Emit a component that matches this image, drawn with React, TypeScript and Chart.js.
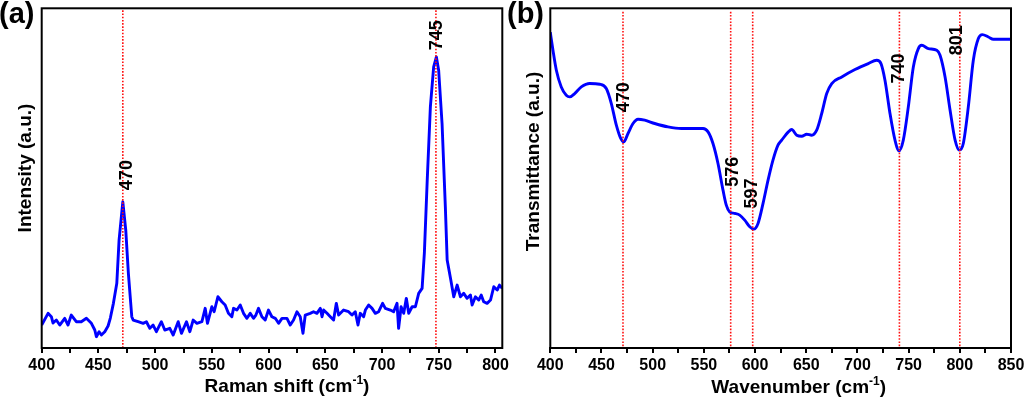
import React, { useEffect, useRef } from 'react';
import { Chart, registerables } from 'chart.js';

Chart.register(...registerables);

// ---------- Panel (a): Raman spectrum ----------
const ramanShift = [
  400, 405.6, 408.5, 410.0, 412.9, 415.9, 420.3, 423.2, 426.1, 430.5, 434.9, 439.4, 443.8, 446.8, 448.2,
  450.6, 452.6, 455.6, 458.5, 460.5, 463.2, 466.2, 468.2, 471.5, 474.1, 476.4, 479.4, 480.6, 485.0, 489.4,
  492.3, 495.3, 498.2, 501.1, 505.5, 508.5, 512.9, 515.9, 520.3, 523.2, 527.6, 530.6, 533.5, 536.8, 541.2,
  544.1, 546.1, 550.0, 552.0, 555.3, 558.8, 561.7, 564.6, 567.6, 569.1, 572.1, 575.0, 577.9, 580.9, 583.8,
  586.7, 588.8, 591.1, 594.1, 597.0, 599.9, 602.9, 605.9, 608.8, 611.8, 616.2, 619.1, 622.0, 625.0, 627.9,
  630.3, 632.3, 636.7, 639.6, 642.6, 645.6, 647.1, 648.5, 651.5, 654.4, 657.3, 659.7, 661.7, 666.1, 670.5,
  673.5, 676.4, 678.8, 680.8, 683.8, 685.3, 688.2, 691.2, 694.1, 697.0, 700.5, 702.9, 707.3, 710.2, 713.2,
  714.6, 716.8, 719.1, 721.4, 723.5, 726.5, 729.4, 732.3, 735.3, 737.3, 739.9, 742.6, 745.5, 747.9, 749.9,
  752.9, 755.8, 757.4, 760.3, 763.2, 766.2, 769.1, 772.0, 775.0, 777.9, 779.4, 782.3, 785.2, 787.4, 789.6,
  792.6, 795.6, 798.5, 801.5, 803.5, 805.9,
];
const ramanIntensity = [
  23, 34.7, 31.3, 25, 28, 23, 29.7, 23, 33, 26.3, 26.3, 29.7, 24.7, 18, 11.3,
  16.3, 13, 16.3, 22, 30, 44.7, 64.7, 108, 146.3, 118, 74.7, 31.3, 28, 26.3, 24.7,
  26.3, 19.7, 23, 16.3, 26.3, 18, 19.7, 13, 26.3, 14.7, 26.3, 16.3, 28, 24.7, 26.3,
  39.7, 24.7, 41.3, 36.3, 51.3, 46.3, 43, 34.7, 31.3, 39.7, 38, 43, 34.7, 29.7, 34.7,
  29.7, 33, 39.7, 31.3, 28, 38, 31.3, 29.7, 24.7, 29.7, 29.7, 23, 28, 36.3, 31.3,
  14.7, 33, 34.7, 36.3, 34.7, 39.7, 31.3, 38, 34.7, 31.3, 28, 44.7, 33, 38, 36.3,
  33, 36.3, 23, 34.7, 31.3, 38, 43, 39.7, 34.7, 36.3, 44.7, 39.7, 38, 36.3, 44.7,
  19.7, 41.3, 34.7, 49.7, 34.7, 41.3, 41.3, 54.7, 59.7, 95, 170, 241.3, 281.3, 291.3, 278,
  224.7, 141.3, 88, 70, 51.3, 63, 51.3, 54.7, 49.7, 53, 43, 51.3, 48, 53, 46.3,
  44.7, 48, 61.3, 58, 63, 59.7,
];
const ramanPeakPositions = [471.5, 747.5];
const ramanPeakLabels = ['470', '745'];

// ---------- Panel (b): FTIR spectrum ----------
const ftirWavenumber = [
  400, 402.6, 405.9, 410.7, 415.6, 419.0, 423.8, 430.3, 438.5, 448.3, 454.7, 459.6, 464.5, 468.8, 471.7,
  475.9, 480.8, 485.7, 492.2, 502.0, 515.0, 528.0, 541.1, 549.2, 554.1, 558.9, 563.8, 568.7, 571.9, 575.2,
  580.1, 585.0, 589.9, 594.8, 598.7, 602.9, 607.8, 612.7, 617.5, 622.4, 626.0, 632.5, 635.8, 640.7, 645.6,
  650.5, 655.3, 660.2, 665.1, 670.0, 674.9, 684.7, 697.6, 710.6, 718.8, 723.0, 726.9, 731.8, 736.7, 740.6,
  744.8, 749.7, 754.6, 759.5, 762.8, 769.3, 777.5, 780.7, 785.6, 790.5, 795.4, 799.5, 803.4, 808.3, 813.2,
  818.1, 822.0, 827.9, 832.8, 847.4, 850,
];
const ftirTransmittance = [
  316, 298, 278, 261.3, 253, 251.3, 254.7, 261.3, 264.7, 264, 259.7, 244.7, 223, 209.7, 206.3,
  214.7, 224.7, 229, 228, 224.7, 221.3, 219.7, 219.7, 219.7, 216.3, 204.7, 184.7, 158, 143, 136.3,
  134.7, 133, 128, 121.3, 119, 124.7, 144.7, 168, 188, 203, 208, 216.3, 218.7, 213, 212,
  214, 213, 218, 234.7, 254.7, 264.7, 271.3, 278.7, 284.7, 288, 284.7, 268, 234.7, 208, 197.3,
  208, 241.3, 281.3, 299.7, 303, 299.7, 298, 293, 271.3, 238, 208, 198, 204.7, 241.3, 288,
  309.7, 313.7, 311.3, 309, 309, 309,
];
const ftirBandPositions = [471, 576.2, 597.7, 741, 800];
const ftirBandLabels = ['470', '576', '597', '740', '801'];

// ---------- Axis ticks ----------
const ramanTicks = [400, 425, 450, 475, 500, 525, 550, 575, 600, 625, 650, 675, 700, 725, 750, 775, 800];
const ftirTicks = [400, 425, 450, 475, 500, 525, 550, 575, 600, 625, 650, 675, 700, 725, 750, 775, 800, 825, 850];

const FONT = '"Liberation Sans", Arial, Helvetica, sans-serif';

type PanelCfg = {
  xs: number[];
  ys: number[];
  smooth: boolean;
  xMin: number;
  xMax: number;
  ticks: number[];
  padding: { left: number; right: number; top: number; bottom: number };
  markers: number[];
  labels: string[];
  labelDx: number[];
  labelY: number[];
  markerGap: number;
  yTitle: string;
  yTitlePos: [number, number];
  xTitle: string;
  xTitlePos: [number, number];
};

function decorPlugin(cfg: PanelCfg) {
  return {
    id: 'decor',
    afterDatasetsDraw(chart: any) {
      const { ctx, chartArea, scales } = chart;
      const xs = scales.x;
      const ys = scales.y;
      ctx.save();
      ctx.strokeStyle = '#ff1010';
      ctx.lineWidth = 1.6;
      ctx.setLineDash([1.6, 1.6]);
      cfg.markers.forEach((m) => {
        const px = xs.getPixelForValue(m);
        ctx.beginPath();
        ctx.moveTo(px, chartArea.top + cfg.markerGap);
        ctx.lineTo(px, chartArea.bottom);
        ctx.stroke();
      });
      ctx.setLineDash([]);
      ctx.fillStyle = '#000';
      ctx.font = `bold 18px ${FONT}`;
      cfg.labels.forEach((txt, i) => {
        const px = xs.getPixelForValue(cfg.markers[i]) + cfg.labelDx[i];
        const py = ys.getPixelForValue(cfg.labelY[i]);
        ctx.save();
        ctx.translate(px, py);
        ctx.rotate(-Math.PI / 2);
        ctx.textAlign = 'left';
        ctx.textBaseline = 'middle';
        ctx.fillText(txt, 0, 0);
        ctx.restore();
      });
      // frame
      ctx.strokeStyle = '#000';
      ctx.lineWidth = 2;
      ctx.strokeRect(chartArea.left, chartArea.top, chartArea.right - chartArea.left, chartArea.bottom - chartArea.top);
      // y title
      ctx.save();
      ctx.font = `bold 19px ${FONT}`;
      ctx.translate(cfg.yTitlePos[0], cfg.yTitlePos[1]);
      ctx.rotate(-Math.PI / 2);
      ctx.textAlign = 'center';
      ctx.textBaseline = 'middle';
      ctx.fillText(cfg.yTitle, 0, 0);
      ctx.restore();
      // x title with superscript
      const main = cfg.xTitle + ' (cm';
      const sup = '-1';
      const tail = ')';
      ctx.font = `bold 19px ${FONT}`;
      const w1 = ctx.measureText(main).width;
      const w3 = ctx.measureText(tail).width;
      ctx.font = `bold 12px ${FONT}`;
      const w2 = ctx.measureText(sup).width;
      const total = w1 + w2 + w3;
      const x0 = cfg.xTitlePos[0] - total / 2;
      const base = cfg.xTitlePos[1];
      ctx.textAlign = 'left';
      ctx.textBaseline = 'alphabetic';
      ctx.font = `bold 19px ${FONT}`;
      ctx.fillText(main, x0, base);
      ctx.font = `bold 12px ${FONT}`;
      ctx.fillText(sup, x0 + w1, base - 8);
      ctx.font = `bold 19px ${FONT}`;
      ctx.fillText(tail, x0 + w1 + w2, base);
      ctx.restore();
    },
  };
}

function buildChart(canvas: HTMLCanvasElement, cfg: PanelCfg) {
  return new Chart(canvas, {
    type: 'line',
    data: {
      datasets: [
        {
          data: cfg.xs.map((x, i) => ({ x, y: cfg.ys[i] })),
          borderColor: '#0000ff',
          borderWidth: 2.9,
          pointRadius: 0,
          fill: false,
          tension: 0,
          cubicInterpolationMode: cfg.smooth ? 'monotone' : 'default',
          borderJoinStyle: 'round',
        } as any,
      ],
    },
    options: {
      responsive: false,
      animation: false,
      devicePixelRatio: 1,
      events: [],
      layout: { padding: cfg.padding },
      plugins: { legend: { display: false }, tooltip: { enabled: false } },
      scales: {
        x: {
          type: 'linear',
          min: cfg.xMin,
          max: cfg.xMax,
          afterBuildTicks: (s: any) => {
            s.ticks = cfg.ticks.map((v) => ({ value: v }));
          },
          afterFit: (s: any) => {
            s.height = 50;
            s.paddingLeft = 0;
            s.paddingRight = 0;
          },
          ticks: {
            autoSkip: false,
            maxRotation: 0,
            minRotation: 0,
            padding: 3,
            color: '#000',
            font: { family: FONT, size: 16, weight: 'bold' },
            callback: (v: any) => (Number(v) % 50 === 0 ? String(v) : ''),
          },
          grid: { display: true, drawOnChartArea: false, drawTicks: true, tickLength: 5, color: '#000', lineWidth: 2 },
          border: { display: true, color: '#000', width: 2 },
        },
        y: { display: false, min: 0, max: 340 },
      },
    } as any,
    plugins: [decorPlugin(cfg)],
  });
}

const panelA: PanelCfg = {
  xs: ramanShift,
  ys: ramanIntensity,
  smooth: false,
  xMin: 400,
  xMax: 806,
  ticks: ramanTicks,
  padding: { left: 41.7, right: 9.7, top: 8.3, bottom: 0 },
  markers: ramanPeakPositions,
  labels: ramanPeakLabels,
  labelDx: [4, 1],
  labelY: [158, 298],
  markerGap: 2,
  yTitle: 'Intensity (a.u.)',
  yTitlePos: [26, 168],
  xTitle: 'Raman shift',
  xTitlePos: [287, 391.5],
};

const panelB: PanelCfg = {
  xs: ftirWavenumber,
  ys: ftirTransmittance,
  smooth: true,
  xMin: 400,
  xMax: 850,
  ticks: ftirTicks,
  padding: { left: 38.3, right: 13, top: 8.3, bottom: 0 },
  markers: ftirBandPositions,
  labels: ftirBandLabels,
  labelDx: [1.5, 2.3, -1, -0.7, -3],
  labelY: [236, 161.3, 139.7, 264.7, 293],
  markerGap: 3.5,
  yTitle: 'Transmittance (a.u.)',
  yTitlePos: [21.5, 161.5],
  xTitle: 'Wavenumber',
  xTitlePos: [286.7, 393],
};

export default function App() {
  const refA = useRef<HTMLCanvasElement>(null);
  const refB = useRef<HTMLCanvasElement>(null);

  useEffect(() => {
    document.body.style.margin = '0';
    const a = buildChart(refA.current!, panelA);
    const b = buildChart(refB.current!, panelB);
    return () => {
      a.destroy();
      b.destroy();
    };
  }, []);

  const panelLabel: React.CSSProperties = {
    position: 'absolute',
    top: -1.5,
    font: `bold 29px ${FONT}`,
    lineHeight: '29px',
    color: '#000',
    whiteSpace: 'nowrap',
  };

  return (
    <div style={{ position: 'relative', width: 1024, height: 398, background: '#fff', overflow: 'hidden' }}>
      <canvas ref={refA} width={512} height={398} style={{ position: 'absolute', left: 0, top: 0, width: 512, height: 398 }} />
      <canvas ref={refB} width={512} height={398} style={{ position: 'absolute', left: 512, top: 0, width: 512, height: 398 }} />
      <span style={{ ...panelLabel, left: -1 }}>(a)</span>
      <span style={{ ...panelLabel, left: 507 }}>(b)</span>
    </div>
  );
}
